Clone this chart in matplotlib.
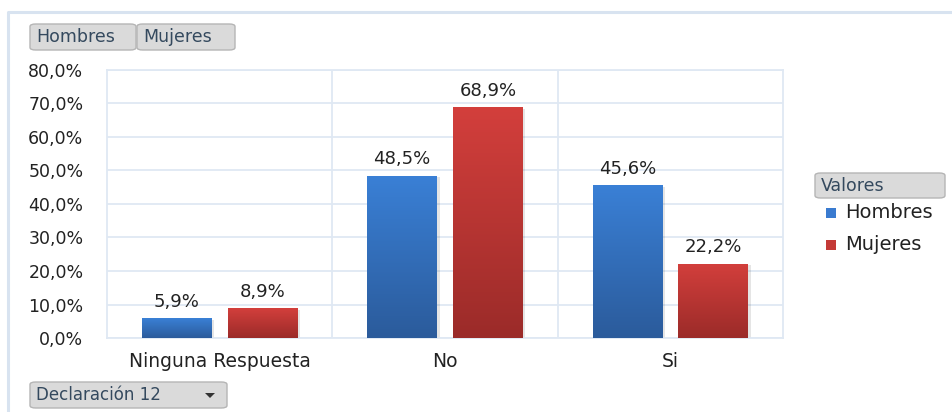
import numpy as np
import matplotlib.pyplot as plt
from matplotlib.patches import FancyBboxPatch, Rectangle, Polygon
from matplotlib.colors import LinearSegmentedColormap

categories = ['Ninguna Respuesta', 'No', 'Si']
hombres = [5.9, 48.5, 45.6]
mujeres = [8.9, 68.9, 22.2]
series_names = ['Hombres', 'Mujeres']
yticks = [0, 10, 20, 30, 40, 50, 60, 70, 80]

GRID = '#dfe8f3'
TXT = '#222222'
BTN_TXT = '#34495e'

fig = plt.figure(figsize=(9.52, 4.12), dpi=100)
ax = fig.add_axes([107 / 952, 74 / 412, 676 / 952, 268 / 412])

blue_cmap = LinearSegmentedColormap.from_list('b', ['#2b5b9b', '#3a80d6'])
red_cmap = LinearSegmentedColormap.from_list('r', ['#9b2b29', '#d33f3c'])
grad = np.linspace(0, 1, 256).reshape(-1, 1)

x = np.arange(len(categories))
width = 0.31
offset = 0.19


def gradient_bars(xs, vals, cmap):
    for xi, v in zip(xs, vals):
        # soft shadow on the right side
        ax.add_patch(Rectangle((xi - width / 2 + 0.012, 0), width, v - 0.4,
                               facecolor='#000000', alpha=0.10, zorder=2,
                               edgecolor='none'))
        rect = Rectangle((xi - width / 2, 0), width, v, facecolor='none',
                         edgecolor='none', zorder=3)
        ax.add_patch(rect)
        im = ax.imshow(grad, cmap=cmap, origin='lower', aspect='auto',
                       extent=[xi - width / 2, xi + width / 2, 0, v],
                       zorder=3, interpolation='bilinear')
        im.set_clip_path(rect)
        ax.text(xi, v + 2.2, f'{v:.1f}%'.replace('.', ','), ha='center',
                va='bottom', fontsize=13, color=TXT)


gradient_bars(x - offset, hombres, blue_cmap)
gradient_bars(x + offset, mujeres, red_cmap)

ax.set_xlim(-0.5, 2.5)
ax.set_ylim(0, 80)
ax.set_yticks(yticks)
ax.set_yticklabels([f'{t:.1f}%'.replace('.', ',') for t in yticks])
ax.set_xticks(x)
ax.set_xticklabels(categories)
ax.tick_params(axis='both', length=0, labelcolor=TXT)
ax.tick_params(axis='y', pad=17, labelsize=12.5)
ax.tick_params(axis='x', pad=10, labelsize=13.5)

for t in yticks:
    ax.axhline(t, color=GRID, linewidth=1.3, zorder=1)
for xv in [0.5, 1.5]:
    ax.axvline(xv, color=GRID, linewidth=1.3, zorder=1)
for s in ax.spines.values():
    s.set_color(GRID)
    s.set_linewidth(1.3)

# outer chart frame
W, H = 952, 412
fig.add_artist(plt.Line2D([8 / W, 8 / W, 1], [0, 1 - 12 / H, 1 - 12 / H],
                          color='#d8e3f0', linewidth=2.2,
                          transform=fig.transFigure))


def button(x0, y0, w, h, label, arrow=False, fs=12.5):
    box = FancyBboxPatch((x0 / W, 1 - (y0 + h) / H), w / W, h / H,
                         boxstyle='round,pad=0,rounding_size=0.006',
                         transform=fig.transFigure, facecolor='#dadada',
                         edgecolor='#b5b5b5', linewidth=1.0)
    fig.add_artist(box)
    fig.text((x0 + 6) / W, 1 - (y0 + h / 2) / H, label, ha='left',
             va='center', fontsize=fs, color=BTN_TXT)
    if arrow:
        cx, cy = x0 + w - 17, y0 + h / 2
        tri = Polygon([[(cx - 5) / W, 1 - (cy - 2) / H],
                       [(cx + 5) / W, 1 - (cy - 2) / H],
                       [cx / W, 1 - (cy + 3) / H]], closed=True,
                      transform=fig.transFigure, facecolor='#333333',
                      edgecolor='none')
        fig.add_artist(tri)


button(30, 24, 106, 26, 'Hombres')
button(137, 24, 98, 26, 'Mujeres')
button(30, 382, 197, 26, 'Declaración 12', arrow=True, fs=12)
button(815, 173, 130, 25, 'Valores')

# legend
leg_colors = ['#3a7bd0', '#c43a37']
for i, (name, c) in enumerate(zip(series_names, leg_colors)):
    yc = 213 + i * 32
    fig.add_artist(Rectangle((826 / W, 1 - (yc + 5) / H), 10 / W, 10 / H,
                             transform=fig.transFigure, facecolor=c,
                             edgecolor='none'))
    fig.text(845 / W, 1 - yc / H, name, ha='left', va='center',
             fontsize=14, color=TXT)

fig.savefig('out.png', dpi=100)
